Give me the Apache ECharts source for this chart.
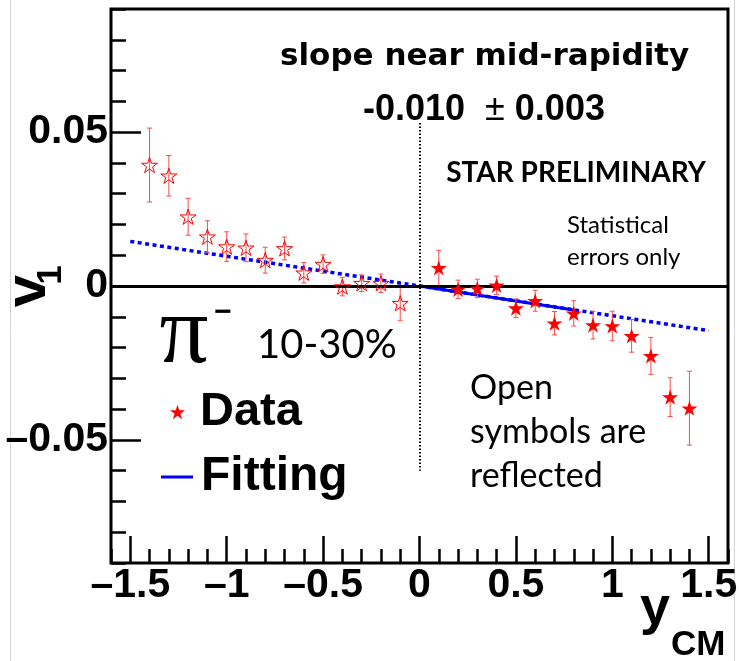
<!DOCTYPE html>
<html>
<head>
<meta charset="utf-8">
<script src="https://cdn.jsdelivr.net/npm/echarts@6/dist/echarts.min.js"></script>
<style>html,body{margin:0;padding:0;background:#fff}#c{width:739px;height:661px}</style>
</head>
<body>
<div id="c"></div>
<script>
// ---- data ----
const xTickLabels = [-1.5, -1, -0.5, 0, 0.5, 1, 1.5];
const yTickLabels = [-0.05, 0, 0.05];

// filled stars (measured)
const rapidityFilled = [0.1, 0.2, 0.3, 0.4, 0.5, 0.6, 0.7, 0.8, 0.9, 1.0, 1.1, 1.2, 1.3, 1.4];
const v1Filled      = [0.0059, -0.0011, -0.0008, 0.0002, -0.0072, -0.0048, -0.0121, -0.0089, -0.0127, -0.0130, -0.0162, -0.0227, -0.0361, -0.0397];
const errFilled     = [0.0057, 0.0030, 0.0030, 0.0030, 0.0030, 0.0034, 0.0038, 0.0041, 0.0045, 0.0048, 0.0053, 0.0060, 0.0063, 0.0120];

// open stars (reflected)
const rapidityOpen = [-1.4, -1.3, -1.2, -1.1, -1.0, -0.9, -0.8, -0.7, -0.6, -0.5, -0.4, -0.3, -0.2, -0.1];
const v1Open       = [0.0393, 0.0358, 0.0225, 0.0160, 0.0128, 0.0124, 0.0084, 0.0122, 0.0043, 0.0071, -0.0002, 0.0009, 0.0009, -0.0056];
const errOpen      = [0.0120, 0.0066, 0.0060, 0.0052, 0.0048, 0.0045, 0.0042, 0.0037, 0.0033, 0.0030, 0.0030, 0.0027, 0.0030, 0.0057];

// fit lines
const fitSolidX  = [0, 0.8];
const fitSolidY  = [0, -0.0078];
const fitDottedX = [-1.5, 1.5];
const fitDottedY = [0.0145, -0.0145];

// mid-rapidity guide line (x, top, bottom)
const midLineX = 0;
const midLineY = [0.053, -0.060];

// ---- build ----
const zip = (a, b, c) => a.map((v, i) => c ? [v, b[i], c[i]] : [v, b[i]]);
const starPath = 'path://M100,0 L122.45,69.1 L195.1,69.1 L136.3,111.8 L158.8,180.9 L100,138.2 L41.2,180.9 L63.7,111.8 L4.9,69.1 L77.55,69.1 Z';
const RED = '#ff0000', ERR = '#ff4a4a', BLUE = '#0000ff';
const SANS = "'Liberation Sans', Arial, sans-serif";

function errorBar(params, api) {
  const x = api.value(0), y = api.value(1), e = api.value(2);
  const top = api.coord([x, y + e]);
  const bot = api.coord([x, y - e]);
  const cw = 2.5;
  const st = { stroke: ERR, lineWidth: 1 };
  return {
    type: 'group',
    children: [
      { type: 'line', shape: { x1: top[0], y1: top[1], x2: bot[0], y2: bot[1] }, style: st },
      { type: 'line', shape: { x1: top[0] - cw, y1: top[1], x2: top[0] + cw, y2: top[1] }, style: st },
      { type: 'line', shape: { x1: bot[0] - cw, y1: bot[1], x2: bot[0] + cw, y2: bot[1] }, style: st }
    ]
  };
}

const fmtX = v => (v < 0 ? '\u2013' : '') + String(Math.abs(Math.round(v * 10) / 10));
const fmtY = v => (v < 0 ? '\u2013' : '') + String(Math.abs(Math.round(v * 100) / 100));

function txt(x, y, text, font, align, vAlign, extra) {
  return Object.assign({ type: 'text', x: x, y: y, silent: true,
    style: Object.assign({ text: text, font: font, fill: '#000', align: align, verticalAlign: vAlign, textAlign: align, textVerticalAlign: vAlign }, (extra && extra.style) || {}) },
    (extra && extra.el) || {});
}

const chart = echarts.init(document.getElementById('c'), null, { renderer: 'canvas' });
chart.setOption({
  animation: false,
  backgroundColor: '#fff',
  grid: { left: 111, right: 11, top: 9, bottom: 98, containLabel: false, outerBoundsMode: 'none', show: true, borderColor: '#000', borderWidth: 3, backgroundColor: 'transparent' },
  xAxis: [
    {
      type: 'value', min: -1.6, max: 1.6, interval: 0.1, position: 'bottom',
      axisLine: { show: false, onZero: false }, splitLine: { show: false },
      axisTick: { inside: true, length: 14, lineStyle: { color: '#000', width: 2.5 } },
      axisLabel: { show: false }
    },
    {
      type: 'value', min: -1.6, max: 1.6, position: 'bottom',
      axisLine: { show: false, onZero: false }, splitLine: { show: false },
      axisTick: { inside: true, length: 27, customValues: xTickLabels, lineStyle: { color: '#000', width: 2.5 } },
      axisLabel: { customValues: xTickLabels, formatter: fmtX, margin: 2, color: '#000', fontFamily: SANS, fontWeight: 'bold', fontSize: 41 }
    }
  ],
  yAxis: [
    {
      type: 'value', min: -0.09, max: 0.09, interval: 0.01, position: 'left',
      axisLine: { show: false, onZero: false }, splitLine: { show: false },
      axisTick: { inside: true, length: 15, lineStyle: { color: '#000', width: 2.5 } },
      axisLabel: { show: false }
    },
    {
      type: 'value', min: -0.09, max: 0.09, position: 'left',
      axisLine: { show: false, onZero: false }, splitLine: { show: false },
      axisTick: { inside: true, length: 30, customValues: yTickLabels, lineStyle: { color: '#000', width: 2.5 } },
      axisLabel: { customValues: yTickLabels, formatter: fmtY, margin: 3, color: '#000', fontFamily: SANS, fontWeight: 'bold', fontSize: 41 }
    }
  ],
  legend: [
    {
      left: 170, top: 388, padding: 0, orient: 'vertical', selectedMode: false,
      itemWidth: 15, itemHeight: 15,
      data: [{ name: 'Data', icon: starPath, itemStyle: { color: RED, borderWidth: 0 } }],
      textStyle: { fontFamily: SANS, fontWeight: 'bold', fontSize: 47, lineHeight: 48, color: '#000', padding: [0, 0, 0, 10] }
    },
    {
      left: 161, top: 453, padding: 0, orient: 'vertical', selectedMode: false,
      itemWidth: 32, itemHeight: 3,
      data: [{ name: 'Fitting', icon: 'rect', itemStyle: { color: BLUE } }],
      textStyle: { fontFamily: SANS, fontWeight: 'bold', fontSize: 48, lineHeight: 48, color: '#000', padding: [0, 0, 0, 3] }
    }
  ],
  graphic: [
    { type: 'line', shape: { x1: 10.5, y1: 0, x2: 10.5, y2: 661 }, style: { stroke: '#d4d4d4', lineWidth: 1 }, silent: true },
    { type: 'line', shape: { x1: 734.5, y1: 0, x2: 734.5, y2: 661 }, style: { stroke: '#d4d4d4', lineWidth: 1 }, silent: true },
    // axis titles
    txt(655, 609, 'y', "bold 54px 'Liberation Sans'", 'center', 'middle'),
    txt(671, 645, 'CM', "bold 35px 'Liberation Sans'", 'left', 'middle'),
    txt(29, 291, 'v', "bold 58px 'Liberation Sans'", 'center', 'middle', { el: { rotation: Math.PI / 2 } }),
    txt(51, 275, '1', "bold 35px 'Liberation Sans'", 'center', 'middle', { el: { rotation: Math.PI / 2 } }),
    // annotations
    txt(280, 57, 'slope near mid-rapidity', "bold 31px 'DejaVu Sans'", 'left', 'middle'),
    txt(363, 110, '{b|-0.010}  {r|\u00b1} {b|0.003}', "bold 36px 'Liberation Sans'", 'left', 'middle',
      { style: { rich: { b: { font: "bold 36px 'Liberation Sans'", fill: '#000' }, r: { font: "36px 'Liberation Sans'", fill: '#000' } } } }),
    txt(576, 173, 'STAR PRELIMINARY', "bold 28px Lato", 'center', 'middle'),
    txt(567, 209, 'Statistical\nerrors only', "24px Lato", 'left', 'top', { style: { lineHeight: 32 } }),
    txt(470, 366, 'Open\nsymbols are\nreflected', "34px Lato", 'left', 'top', { style: { lineHeight: 44 } }),
    txt(184, 337, '\u03c0', "97px 'Liberation Serif'", 'center', 'middle'),
    txt(223, 313, '\u2212', "bold 30px 'Liberation Sans'", 'center', 'middle'),
    txt(257, 345, '10-30%', "40px Lato", 'left', 'middle')
  ],
  series: [
    {
      name: 'Fitting', type: 'line', z: 2, xAxisIndex: 0, yAxisIndex: 0,
      data: zip(fitDottedX, fitDottedY), showSymbol: false, symbol: 'none',
      lineStyle: { color: BLUE, width: 3.5, type: [4, 3.5] },
      markLine: {
        silent: true, symbol: ['none', 'none'], label: { show: false }, animation: false,
        data: [
          { yAxis: 0, lineStyle: { color: '#000', width: 3, type: 'solid' } },
          [{ coord: [midLineX, midLineY[0]], lineStyle: { color: '#000', width: 2, type: [1.5, 2] } }, { coord: [midLineX, midLineY[1]] }]
        ]
      }
    },
    {
      name: 'Fitting', type: 'line', z: 3, xAxisIndex: 0, yAxisIndex: 0,
      data: zip(fitSolidX, fitSolidY), showSymbol: false, symbol: 'none',
      lineStyle: { color: BLUE, width: 3 }
    },
    {
      name: 'errOpen', type: 'custom', z: 4, xAxisIndex: 0, yAxisIndex: 0,
      renderItem: errorBar, data: zip(rapidityOpen, v1Open, errOpen), encode: { x: 0, y: 1 }
    },
    {
      name: 'errFilled', type: 'custom', z: 4, xAxisIndex: 0, yAxisIndex: 0,
      renderItem: errorBar, data: zip(rapidityFilled, v1Filled, errFilled), encode: { x: 0, y: 1 }
    },
    {
      name: 'Data', type: 'scatter', z: 5, xAxisIndex: 0, yAxisIndex: 0,
      data: zip(rapidityFilled, v1Filled), symbol: starPath, symbolSize: 16, symbolKeepAspect: true,
      itemStyle: { color: RED, opacity: 1 }
    },
    {
      name: 'Data', type: 'scatter', z: 5, xAxisIndex: 0, yAxisIndex: 0,
      data: zip(rapidityOpen, v1Open), symbol: starPath, symbolSize: 16, symbolKeepAspect: true,
      itemStyle: { color: 'rgba(255,255,255,0)', borderColor: RED, borderWidth: 1, opacity: 1 }
    }
  ]
});
</script>
</body>
</html>
